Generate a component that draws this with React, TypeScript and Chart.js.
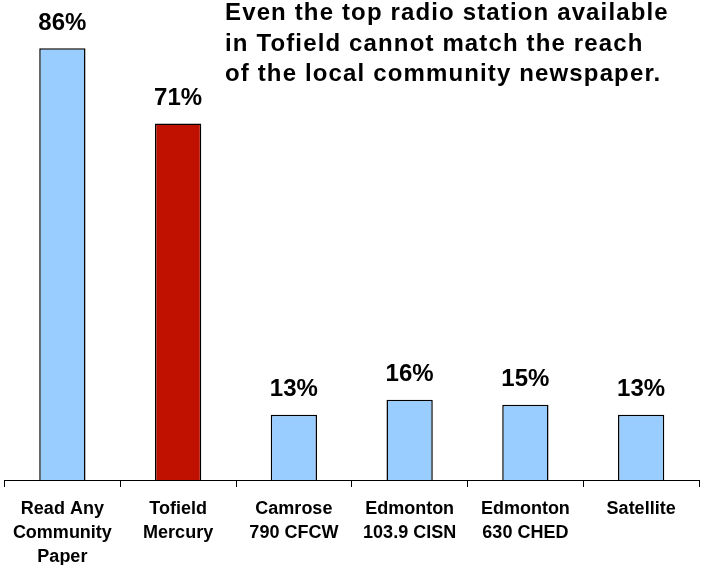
import React, { useEffect, useRef } from "react";
import { Chart, registerables } from "chart.js";

Chart.register(...registerables);

const categories: string[][] = [
  ["Read Any", "Community", "Paper"],
  ["Tofield", "Mercury"],
  ["Camrose", "790 CFCW"],
  ["Edmonton", "103.9 CISN"],
  ["Edmonton", "630 CHED"],
  ["Satellite"],
];
const values: number[] = [86, 71, 13, 16, 15, 13];
const barColors: string[] = ["#99CCFF", "#C01000", "#99CCFF", "#99CCFF", "#99CCFF", "#99CCFF"];
const titleLines: string[] = [
  "Even the top radio station available",
  "in Tofield cannot match the reach",
  "of the local community newspaper.",
];

const FONT = "'Liberation Sans', Arial, Helvetica, sans-serif";

const valueLabels = {
  id: "valueLabels",
  afterDatasetsDraw(chart: any) {
    const ctx = chart.ctx;
    const meta = chart.getDatasetMeta(0);
    ctx.save();
    ctx.font = `bold 24px ${FONT}`;
    ctx.fillStyle = "#000";
    ctx.textAlign = "center";
    ctx.textBaseline = "middle";
    meta.data.forEach((bar: any, i: number) => {
      ctx.fillText(`${values[i]}%`, bar.x, bar.y - 25);
    });
    ctx.restore();
  },
};

export default function App() {
  const ref = useRef<HTMLCanvasElement | null>(null);
  useEffect(() => {
    if (!ref.current) return;
    const chart = new Chart(ref.current, {
      type: "bar",
      data: {
        labels: categories,
        datasets: [
          {
            data: values,
            backgroundColor: barColors,
            borderColor: "#000",
            borderWidth: 1.5,
            categoryPercentage: 1,
            barPercentage: 0.4,
          },
        ],
      },
      options: {
        animation: false,
        responsive: false,
        layout: { padding: { top: 3, left: 4.5, right: 7, bottom: 0 } },
        plugins: { legend: { display: false }, tooltip: { enabled: false } },
        scales: {
          x: {
            grid: {
              drawOnChartArea: false,
              drawTicks: true,
              tickLength: 7,
              color: "#000",
              offset: true,
            },
            border: { display: true, color: "#000", width: 1 },
            ticks: {
              autoSkip: false,
              maxRotation: 0,
              minRotation: 0,
              padding: 9.5,
              color: "#000",
              font: { family: FONT, size: 18, weight: "bold", lineHeight: 1.35 },
            },
            afterFit: (scale: any) => {
              scale.height = 85;
            },
          },
          y: { display: false, min: 0, max: 95 },
        },
      },
      plugins: [valueLabels],
    } as any);
    return () => chart.destroy();
  }, []);

  return (
    <div
      style={{
        position: "fixed",
        left: 0,
        top: 0,
        width: 706,
        height: 565,
        background: "#fff",
        overflow: "hidden",
      }}
    >
      <canvas ref={ref} width={706} height={565} style={{ width: 706, height: 565, display: "block" }} />
      <div
        style={{
          position: "absolute",
          left: 225,
          top: -3,
          fontFamily: FONT,
          fontWeight: "bold",
          fontSize: 24,
          letterSpacing: "1.14px",
          lineHeight: "30.7px",
          color: "#000",
          whiteSpace: "nowrap",
        }}
      >
        {titleLines.map((l, i) => (
          <div key={i}>{l}</div>
        ))}
      </div>
    </div>
  );
}
